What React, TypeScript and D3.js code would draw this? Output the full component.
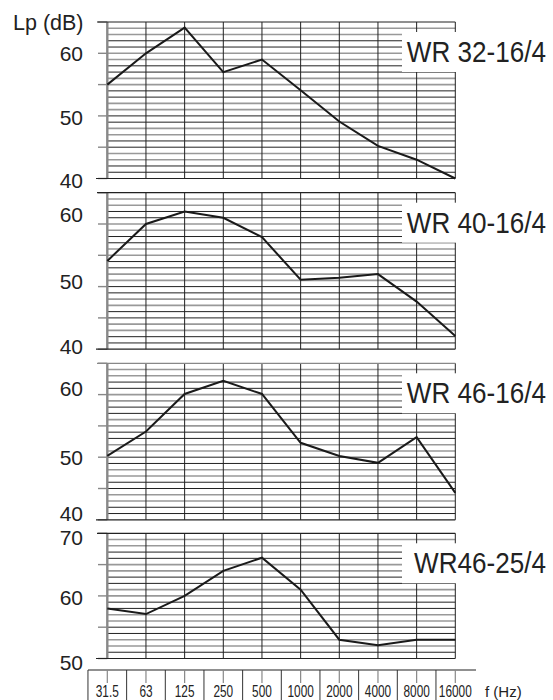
import * as d3 from 'd3';

// frequency bands (Hz)
const freqs = ['31.5', '63', '125', '250', '500', '1000', '2000', '4000', '8000', '16000'];

// sound pressure level Lp (dB) per model
const wr32_16_4 = [55, 60, 64.1, 57, 59, 54.1, 49.1, 45.2, 43, 40];
const wr40_16_4 = [54.1, 60, 62, 61, 57.9, 51.1, 51.4, 52, 47.6, 42.1];
const wr46_16_4 = [50.2, 54.1, 60.1, 62.2, 60.1, 52.3, 50.2, 49.1, 53.2, 44.3];
const wr46_25_4 = [58, 57.1, 60, 64, 66.1, 61, 53, 52.1, 53, 53];

const titles = ['WR 32-16/4', 'WR 40-16/4', 'WR 46-16/4', 'WR46-25/4'];
const yDomains: [number, number][] = [[40, 65], [40, 65], [40, 65], [50, 70]];
const yTickLabels = [[40, 50, 60], [40, 50, 60], [40, 50, 60], [50, 60, 70]];

const series = [wr32_16_4, wr40_16_4, wr46_16_4, wr46_25_4];

const W = 553;
const H = 700;
const FONT = '"Liberation Sans", Arial, sans-serif';
const left = 107.3;
const right = 455.3;
const panelTops = [22, 192.7, 363.3, 533.3];
const pxPerDb = 6.26;
// small vertical nudges of the y labels, as in the original layout
const labelNudge = [
  [2, 2, 0],
  [-3, -5, -10],
  [-6, 0, -6],
  [4, 2, 4],
];

function Panel({ idx }: { idx: number }) {
  const x = d3.scalePoint<string>().domain(freqs).range([left, right]);
  const [lo, hi] = yDomains[idx];
  const top = panelTops[idx];
  const bottom = top + (hi - lo) * pxPerDb;
  const y = d3.scaleLinear().domain([lo, hi]).range([bottom, top]);
  const minor = d3.range(lo + 1, hi);
  const ticks5 = d3.range(lo, hi + 1, 5);
  const line = d3
    .line<number>()
    .x((_, i) => x(freqs[i]) as number)
    .y((d) => y(d));

  return (
    <g>
      {/* horizontal 1 dB grid */}
      {minor.map((v) => {
        const k = (hi - v) % 4;
        const grey = k === 1 || k === 2;
        return (
          <line
            key={'h' + v}
            x1={left}
            x2={right}
            y1={y(v)}
            y2={y(v)}
            stroke={grey ? '#999' : '#222'}
            strokeWidth={grey ? 1.6 : 1}
          />
        );
      })}
      {/* 5 dB ticks on the left */}
      {ticks5.map((v) => (
        <line key={'t' + v} x1={98} x2={left} y1={y(v)} y2={y(v)} stroke="#888" strokeWidth={1.4} />
      ))}
      {/* vertical grid */}
      {freqs.map((f, i) => (
        <line
          key={'v' + f}
          x1={x(f)}
          x2={x(f)}
          y1={top}
          y2={bottom}
          stroke={i === 0 ? '#888' : '#222'}
          strokeWidth={i === 0 ? 2.4 : 1}
        />
      ))}
      {/* frame top and bottom */}
      <line x1={97} x2={right} y1={top} y2={top} stroke={idx === 2 ? '#888' : '#222'} strokeWidth={1.2} />
      <line x1={96} x2={right} y1={bottom} y2={bottom} stroke="#222" strokeWidth={1.2} />
      {/* y labels */}
      {yTickLabels[idx].map((v, j) => (
        <text
          key={'l' + v}
          x={83}
          y={y(v) + labelNudge[idx][j]}
          dy="0.36em"
          textAnchor="end"
          fontFamily={FONT}
          fontSize={21}
          fill="#222"
        >
          {v}
        </text>
      ))}
      {/* data */}
      <path d={line(series[idx]) ?? ''} fill="none" stroke="#1a1a1a" strokeWidth={2} />
      {/* title on white box */}
      <rect x={402} y={top + 10} width={150} height={40} fill="#fff" />
      <text
        transform={`translate(546,${top + 40}) scale(0.9,1)`}
        textAnchor="end"
        fontFamily={FONT}
        fontSize={29}
        fill="#222"
      >
        {titles[idx]}
      </text>
    </g>
  );
}

export default function App() {
  const x = d3.scalePoint<string>().domain(freqs).range([left, right]);
  const step = x.step();
  const axisY = 670;
  return (
    <svg
      width={W}
      height={H}
      viewBox={`0 0 ${W} ${H}`}
      style={{ position: 'absolute', left: 0, top: 0, background: '#fff' }}
    >
      <rect width={W} height={H} fill="#fff" />
      <text x={13} y={30} fontFamily={FONT} fontSize={21.5} fill="#222">
        Lp (dB)
      </text>
      {series.map((_, i) => (
        <Panel key={i} idx={i} />
      ))}
      {/* frequency axis */}
      <line x1={88} x2={476} y1={axisY} y2={axisY} stroke="#222" strokeWidth={1.2} />
      {freqs.map((f) => {
        const cx = x(f) as number;
        return (
          <g key={'fa' + f}>
            <line x1={cx - step / 2} x2={cx - step / 2} y1={axisY} y2={H} stroke="#333" strokeWidth={1} />
            <line x1={cx} x2={cx} y1={axisY} y2={683} stroke="#888" strokeWidth={1.2} />
            <text
              transform={`translate(${cx},697) scale(0.74,1)`}
              textAnchor="middle"
              fontFamily={FONT}
              fontSize={16}
              fill="#222"
            >
              {f}
            </text>
          </g>
        );
      })}
      <text x={485} y={697} fontFamily={FONT} fontSize={15} fill="#222">
        f (Hz)
      </text>
    </svg>
  );
}
